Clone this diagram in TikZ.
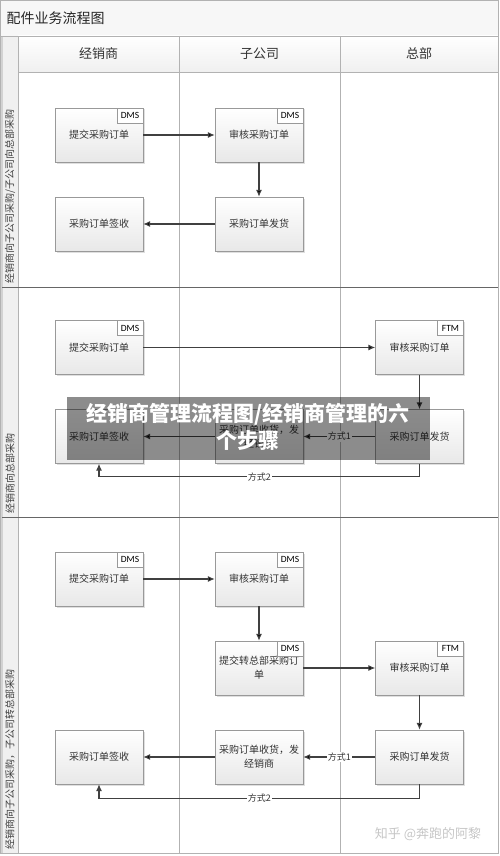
\documentclass[tikz,border=0pt]{standalone}
\usepackage{fontspec}
\setmainfont{Noto Sans CJK SC}
\newfontfamily\tagfont{Carlito}
\usetikzlibrary{positioning,arrows.meta,shadows}

\tikzset{
  box/.style={draw=gray!80, top color=white, bottom color=gray!18, minimum width=88pt, minimum height=54pt,
    align=center, text=black!80, font=\fontsize{10}{14}\selectfont,
    drop shadow={opacity=0.25,shadow xshift=1.5pt,shadow yshift=-1.5pt}},
  tag/.style={draw=gray!80, fill=white, anchor=north east, minimum width=26pt, minimum height=15pt,
    inner sep=1pt, font=\tagfont\fontsize{9.5}{10}\selectfont},
  flow/.style={draw=black!75, line width=1.1pt, -{Latex[length=7pt,width=6pt]}},
  way/.style={fill=white, inner sep=1pt, text=black!80, font=\fontsize{9}{10}\selectfont},
  head/.style={text=black!80, font=\fontsize{13}{15}\selectfont},
  lanetext/.style={rotate=90, anchor=west, inner sep=0pt, text=black!75, font=\fontsize{10}{11}\selectfont},
}

\begin{document}
\begin{tikzpicture}[x=1pt,y=-1pt,node distance=89pt,on grid]
\useasboundingbox (0,0) rectangle (500,856);

% frame and lanes
\fill[gray!6] (0,0) rectangle (498,36);
\fill[gray!12] (2,36) rectangle (18,853);
\fill[gray!35] (0,36) rectangle (3,853);
\shade[top color=white,bottom color=gray!12] (18,36) rectangle (498,72);
\draw[gray!60] (18,36) -- (18,853) (179,36) -- (179,853) (340,36) -- (340,853);
\draw[gray!60] (18,72) -- (498,72) (0,36) -- (498,36);
\draw[black!60] (2,287) -- (498,287) (2,517) -- (498,517);
\draw[gray!60,line width=1pt] (0.5,0.5) rectangle (498,853);

\node[anchor=west, text=black!85, font=\fontsize{14}{16}\selectfont] (title) at (3,18) {配件业务流程图};
\node[head] (hdealer) at (98.5,54) {经销商};
\node[head] (hsub) at (259.5,54) {子公司};
\node[head] (hhq) at (419,54) {总部};

\node[lanetext] (lane1) at (10,284) {经销商向子公司采购/子公司向总部采购};
\node[lanetext] (lane2) at (10,514) {经销商向总部采购};
\node[lanetext] (lane3) at (10,850) {经销商向子公司采购，子公司转总部采购};

% lane 1
\node[box] (l1sub) at (99,135) {提交采购订单};
\node[box] (l1chk) [right=160pt of l1sub] {审核采购订单};
\node[box] (l1ship) [below=of l1chk] {采购订单发货};
\node[box] (l1recv) [below=of l1sub] {采购订单签收};
\node[tag] (l1subt) at (l1sub.north east) {DMS};
\node[tag] (l1chkt) at (l1chk.north east) {DMS};
\path[flow]
  (l1sub) edge (l1chk)
  (l1chk) edge (l1ship)
  (l1ship) edge (l1recv);

% lane 2
\node[box] (l2sub) at (99,347.5) {提交采购订单};
\node[box] (l2chk) [right=320.5pt of l2sub] {审核采购订单};
\node[box] (l2ship) [below=of l2chk] {采购订单发货};
\node[box] (l2fwd) [left=160.5pt of l2ship] {采购订单收货，发\\经销商};
\node[box] (l2recv) [left=160pt of l2fwd] {采购订单签收};
\node[tag] (l2subt) at (l2sub.north east) {DMS};
\node[tag] (l2chkt) at (l2chk.north east) {FTM};
\path[flow]
  (l2sub) edge (l2chk)
  (l2chk) edge (l2ship)
  (l2ship) edge node[way] {方式1} (l2fwd)
  (l2fwd) edge (l2recv);
\draw[flow] (l2ship.south) -- ++(0,13) -| node[pos=0.25,way] {方式2} (l2recv.south);

% lane 3
\node[box] (l3sub) at (99,579) {提交采购订单};
\node[box] (l3chk) [right=160pt of l3sub] {审核采购订单};
\node[box] (l3fwd) [below=of l3chk] {提交转总部采购订\\单};
\node[box] (l3hq) [right=160.5pt of l3fwd] {审核采购订单};
\node[box] (l3ship) [below=of l3hq] {采购订单发货};
\node[box] (l3dlv) [left=160.5pt of l3ship] {采购订单收货，发\\经销商};
\node[box] (l3recv) [left=160pt of l3dlv] {采购订单签收};
\node[tag] (l3subt) at (l3sub.north east) {DMS};
\node[tag] (l3chkt) at (l3chk.north east) {DMS};
\node[tag] (l3fwdt) at (l3fwd.north east) {DMS};
\node[tag] (l3hqt) at (l3hq.north east) {FTM};
\path[flow]
  (l3sub) edge (l3chk)
  (l3chk) edge (l3fwd)
  (l3fwd) edge (l3hq)
  (l3hq) edge (l3ship)
  (l3ship) edge node[way] {方式1} (l3dlv)
  (l3dlv) edge (l3recv);
\draw[flow] (l3ship.south) -- ++(0,14) -| node[pos=0.25,way] {方式2} (l3recv.south);

% banner and watermark
\fill[black,opacity=0.45] (67,397) rectangle (430,460);
\node[text=white, align=center, font=\bfseries\fontsize{21}{27}\selectfont] (banner) at (248,427) {经销商管理流程图/经销商管理的六\\个步骤};
\node[text=gray!45, font=\fontsize{13}{15}\selectfont] (mark) at (428,834) {知乎 @奔跑的阿黎};
\end{tikzpicture}
\end{document}
